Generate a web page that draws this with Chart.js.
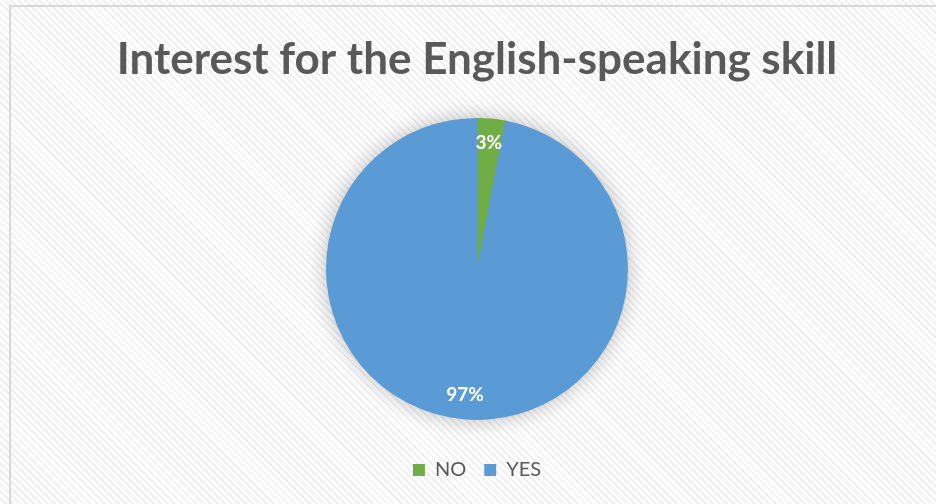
<!DOCTYPE html>
<html>
<head>
<meta charset="utf-8">
<script src="https://cdn.jsdelivr.net/npm/chart.js@4.4.1/dist/chart.umd.min.js"></script>
<style>
  html, body { margin: 0; padding: 0; }
  body {
    width: 936px; height: 504px; overflow: hidden; position: relative;
    background: repeating-linear-gradient(45deg, #ffffff 0px, #ffffff 3px, #f0f0f0 3px, #f0f0f0 5px);
  }
  #frame {
    position: absolute; left: 9px; top: 5px; width: 1000px; height: 600px;
    border-top: 2px solid #d9d9d9; border-left: 2px solid #d9d9d9; box-sizing: border-box;
  }
  #wrap { position: absolute; left: 0; top: 0; width: 936px; height: 504px; }
</style>
</head>
<body>
<div id="frame"></div>
<div id="wrap"><canvas id="c" width="936" height="504"></canvas></div>
<script>
const titleText = 'Interest for the English-speaking skill';
const categories = ['NO', 'YES'];
const values = [3, 97];
const labelsText = ['3%', '97%'];
const colors = ['#70AD47', '#5B9BD5'];

const shadowPlugin = {
  id: 'pieShadow',
  beforeDatasetsDraw(chart) {
    const meta = chart.getDatasetMeta(0);
    if (!meta.data.length) return;
    const a = meta.data[0];
    const ctx = chart.ctx;
    ctx.save();
    ctx.shadowColor = 'rgba(0,0,0,0.28)';
    ctx.shadowBlur = 22;
    ctx.fillStyle = '#5B9BD5';
    ctx.beginPath();
    ctx.arc(a.x, a.y, a.outerRadius - 1, 0, Math.PI * 2);
    ctx.fill();
    ctx.restore();
  }
};

const labelPlugin = {
  id: 'sliceLabels',
  afterDatasetsDraw(chart) {
    const meta = chart.getDatasetMeta(0);
    const ctx = chart.ctx;
    ctx.save();
    ctx.fillStyle = '#ffffff';
    ctx.font = 'bold 19px Lato, "Open Sans", sans-serif';
    ctx.textAlign = 'center';
    ctx.textBaseline = 'middle';
    meta.data.forEach((arc, i) => {
      const mid = (arc.startAngle + arc.endAngle) / 2;
      const r = arc.outerRadius * 0.835;
      ctx.fillText(labelsText[i], arc.x + Math.cos(mid) * r, arc.y + Math.sin(mid) * r);
    });
    ctx.restore();
  }
};

new Chart(document.getElementById('c'), {
  type: 'pie',
  data: {
    labels: categories,
    datasets: [{ data: values, backgroundColor: colors, borderWidth: 0, hoverOffset: 0, radius: 151 }]
  },
  options: {
    responsive: false,
    animation: false,
    layout: { padding: { left: 18, right: 0, top: 0, bottom: 14 } },
    plugins: {
      title: {
        display: true, text: titleText, color: '#595959',
        font: { family: 'Lato, "Open Sans", sans-serif', size: 44, weight: 'bold' },
        padding: { top: 33, bottom: 10 }
      },
      legend: {
        position: 'bottom',
        labels: {
          color: '#595959', boxWidth: 12, boxHeight: 12, padding: 18,
          font: { family: 'Lato, "Open Sans", sans-serif', size: 20 }
        }
      },
      tooltip: { enabled: false }
    }
  },
  plugins: [shadowPlugin, labelPlugin]
});
</script>
</body>
</html>
